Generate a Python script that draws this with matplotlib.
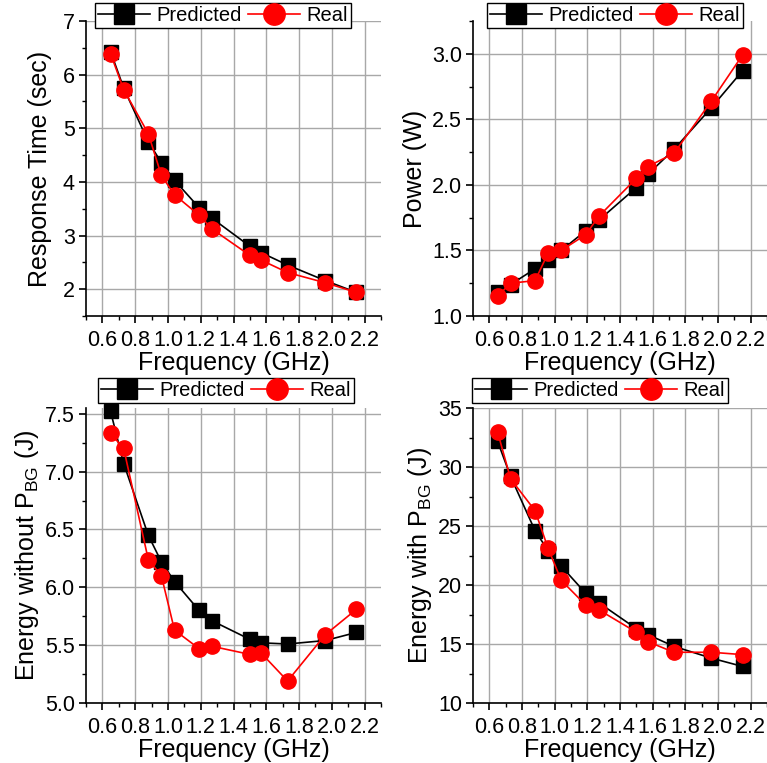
import matplotlib
matplotlib.use("Agg")
import matplotlib.pyplot as plt
from matplotlib.ticker import MultipleLocator

plt.rcParams['font.family'] = ['Liberation Sans', 'DejaVu Sans']
plt.rcParams['mathtext.fontset'] = 'custom'
plt.rcParams['mathtext.rm'] = 'Liberation Sans'
plt.rcParams['mathtext.it'] = 'Liberation Sans'

freq = [0.65, 0.73, 0.88, 0.96, 1.04, 1.19, 1.27, 1.50, 1.57, 1.73, 1.96, 2.15]

resp_pred = [6.43, 5.75, 4.75, 4.36, 4.03, 3.52, 3.32, 2.80, 2.68, 2.45, 2.16, 1.94]
resp_real = [6.39, 5.72, 4.90, 4.12, 3.76, 3.38, 3.12, 2.63, 2.54, 2.31, 2.12, 1.94]

power_pred = [1.18, 1.24, 1.36, 1.43, 1.50, 1.65, 1.73, 1.98, 2.08, 2.27, 2.59, 2.87]
power_real = [1.15, 1.25, 1.27, 1.48, 1.50, 1.62, 1.76, 2.05, 2.14, 2.24, 2.64, 2.99]

enw_pred = [7.52, 7.07, 6.45, 6.22, 6.05, 5.80, 5.71, 5.55, 5.52, 5.51, 5.54, 5.61]
enw_real = [7.33, 7.20, 6.24, 6.10, 5.63, 5.47, 5.49, 5.42, 5.43, 5.19, 5.59, 5.81]

ew_pred = [32.2, 29.2, 24.6, 22.9, 21.6, 19.3, 18.5, 16.3, 15.8, 14.8, 13.8, 13.1]
ew_real = [33.0, 29.0, 26.3, 23.1, 20.4, 18.3, 17.9, 16.0, 15.2, 14.3, 14.3, 14.1]

xlabel = "Frequency (GHz)"
xticks = [0.6, 0.8, 1.0, 1.2, 1.4, 1.6, 1.8, 2.0, 2.2]

W, H = 767, 763
fig = plt.figure(figsize=(W / 100, H / 100), dpi=100)

def px_axes(left, top, right, bottom):
    return fig.add_axes([left / W, 1 - bottom / H, (right - left) / W, (bottom - top) / H])

panels = [
    dict(box=(86, 21, 381, 316), pred=resp_pred, real=resp_real, ylim=(1.5, 7.0),
         major=1.0, minor=0.5, fmt="{:.0f}", ylabel="Response Time (sec)", leg=(95, 3), lab=-0.115),
    dict(box=(473, 21, 767, 316), pred=power_pred, real=power_real, ylim=(1.0, 3.25),
         major=0.5, minor=0.25, fmt="{:.1f}", ylabel="Power (W)", leg=(487, 3), lab=-0.156),
    dict(box=(86, 408, 381, 703), pred=enw_pred, real=enw_real, ylim=(5.0, 7.55),
         major=0.5, minor=0.25, fmt="{:.1f}", ylabel=r"Energy without P$_{\mathrm{BG}}$ (J)", leg=(98, 378), lab=-0.153),
    dict(box=(473, 408, 767, 703), pred=ew_pred, real=ew_real, ylim=(10, 35),
         major=5, minor=2.5, fmt="{:.0f}", ylabel=r"Energy with P$_{\mathrm{BG}}$ (J)", leg=(472, 378), lab=-0.133),
]

for p in panels:
    ax = px_axes(*p["box"])
    ax.plot(freq, p["pred"], color="black", lw=1.2, marker="s", ms=10,
            mec="black", mfc="black", label="Predicted", zorder=3, clip_on=False)
    ax.plot(freq, p["real"], color="#ff0000", lw=1.2, marker="o", ms=11,
            mec="#ff0000", mfc="#ff0000", label="Real", zorder=4, clip_on=False)
    ax.set_xlim(0.5, 2.3)
    ax.set_ylim(*p["ylim"])
    ax.set_xticks(xticks)
    ax.set_xticklabels([f"{v:.1f}" for v in xticks])
    ax.xaxis.set_minor_locator(MultipleLocator(0.1))
    ax.yaxis.set_major_locator(MultipleLocator(p["major"]))
    ax.yaxis.set_minor_locator(MultipleLocator(p["minor"]))
    ax.yaxis.set_major_formatter(matplotlib.ticker.FuncFormatter(lambda v, pos, f=p["fmt"]: f.format(v)))
    ax.grid(True, which="major", color="#a8a8a8", lw=1.0)
    ax.set_axisbelow(True)
    for s in ("top", "right"):
        ax.spines[s].set_visible(False)
    for s in ("left", "bottom"):
        ax.spines[s].set_linewidth(1.2)
    ax.tick_params(which="major", direction="out", length=5, width=1.2, labelsize=15.5)
    ax.tick_params(axis="x", which="major", pad=5)
    ax.tick_params(axis="y", which="major", pad=3)
    ax.tick_params(which="minor", direction="out", length=3, width=1.0)
    ax.set_xlabel(xlabel, fontsize=18, labelpad=0)
    ax.set_ylabel(p["ylabel"], fontsize=18)
    ax.yaxis.set_label_coords(p["lab"], 0.5)
    lx, ly = p["leg"]
    leg = ax.legend(loc="upper left", bbox_to_anchor=(lx / W, 1 - ly / H),
                    bbox_transform=fig.transFigure, ncol=2, fontsize=14.5,
                    frameon=True, fancybox=False, edgecolor="black", framealpha=1,
                    borderaxespad=0, borderpad=0.15, handlelength=2.6, handletextpad=0.3,
                    columnspacing=0.3, markerscale=1.4)
    leg.get_frame().set_linewidth(1.0)
    leg.set_zorder(10)

fig.savefig("out.png", dpi=100)
